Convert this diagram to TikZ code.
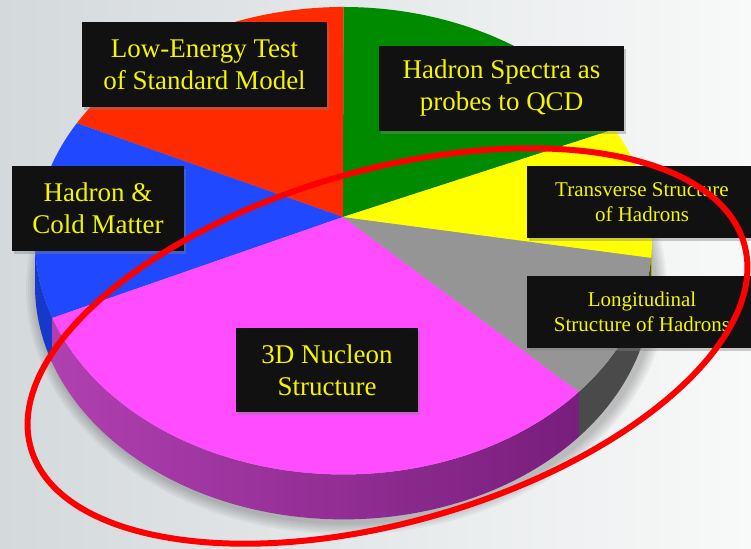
\documentclass[tikz,border=0pt]{standalone}
\usepackage{fontspec}
\setmainfont{Liberation Serif}
\newfontfamily\lblfont{Liberation Serif}
\usepackage{tikz}
\usetikzlibrary{shadows}
\definecolor{bgl}{HTML}{D4D9DC}
\definecolor{bgr}{HTML}{F8F9F9}
\definecolor{pred}{HTML}{FF2A00}
\definecolor{pgreen}{HTML}{008A00}
\definecolor{pyellow}{HTML}{FFFF00}
\definecolor{pgray}{HTML}{959595}
\definecolor{pmag}{HTML}{FF4CFF}
\definecolor{pblue}{HTML}{1F48FF}
\definecolor{sideblue}{HTML}{1838C8}
\definecolor{sidegray}{HTML}{4A4A4A}
\definecolor{sideyellow}{HTML}{B5B500}
\definecolor{sidemagl}{HTML}{B040B0}
\definecolor{sidemagr}{HTML}{781E7C}
\definecolor{boxbg}{HTML}{111111}
\definecolor{txt}{HTML}{F5F500}
\definecolor{ring}{HTML}{FF0000}

\begin{document}
\begin{tikzpicture}[x=1pt,y=1pt,
  lbl/.style={fill=boxbg, text=txt, align=center, inner sep=0pt,
    drop shadow={shadow xshift=2pt,shadow yshift=-3pt,opacity=0.4}},
  big/.style={font=\lblfont\fontsize{27}{32}\selectfont},
  small/.style={font=\lblfont\fontsize{21}{25}\selectfont}]
\useasboundingbox (0,0) rectangle (751,548);
\shade[left color=bgl, right color=bgr] (0,0) rectangle (751,548);

% pie geometry (top ellipse, depth of the rim)
\def\cx{343.5} \def\cy{307.3} \def\rx{308.5} \def\ry{233.7} \def\dep{45}
\coordinate (O) at (343,331);

% soft shadow under the pie
\foreach \s in {1,...,6}{
  \fill[black, opacity=0.04] (\cx+3,\cy-\dep-3) ellipse[x radius=\rx+2*\s, y radius=\ry+2*\s];
}

% rim of the pie
\foreach \a/\b/\col in {180/199.3/sideblue, 319.7/355.8/sidegray, 355.8/360/sideyellow}{
  \fill[\col] ({\cx+\rx*cos(\a)},{\cy+\ry*sin(\a)}) arc[start angle=\a,end angle=\b,x radius=\rx,y radius=\ry]
    -- ++(0,-\dep) arc[start angle=\b,end angle=\a,x radius=\rx,y radius=\ry] -- cycle;
}
\shade[left color=sidemagl, right color=sidemagr] ({\cx+\rx*cos(199.3)},{\cy+\ry*sin(199.3)})
  arc[start angle=199.3,end angle=319.7,x radius=\rx,y radius=\ry]
  -- ++(0,-\dep) arc[start angle=319.7,end angle=199.3,x radius=\rx,y radius=\ry] -- cycle;

% top slices
\foreach \a/\b/\col in {28.5/90/pgreen, 90/149.8/pred, 149.8/199.3/pblue, 199.3/319.7/pmag, 319.7/355.8/pgray, -4.2/28.5/pyellow}{
  \fill[\col] (O) -- ({\cx+\rx*cos(\a)},{\cy+\ry*sin(\a)})
    arc[start angle=\a,end angle=\b,x radius=\rx,y radius=\ry] -- cycle;
}

% labels
\node[lbl,big,minimum width=245pt,minimum height=85pt] (lowE) at (204.5,483.5) {Low-Energy Test\\of Standard Model};
\node[lbl,big,minimum width=245pt,minimum height=85pt] (spec) at (501.5,459.5) {Hadron Spectra as\\probes to QCD};
\node[lbl,big,minimum width=172pt,minimum height=85pt] (cold) at (98,339.5) {Hadron \&\\Cold Matter};
\node[lbl,small,minimum width=230pt,minimum height=72pt] (trans) at (642,346) {Transverse Structure\\of Hadrons};
\node[lbl,small,minimum width=230pt,minimum height=72pt] (longi) at (642,236) {Longitudinal\\Structure of Hadrons};
\node[lbl,big,minimum width=182pt,minimum height=84pt] (nucl) at (327,178) {3D Nucleon\\Structure};

% red ring round the nucleon part
\coordinate (R) at (387.5,202);
\draw[ring, line width=6pt, rotate around={16:(R)}] (R) ellipse[x radius=371, y radius=176];
\end{tikzpicture}
\end{document}
